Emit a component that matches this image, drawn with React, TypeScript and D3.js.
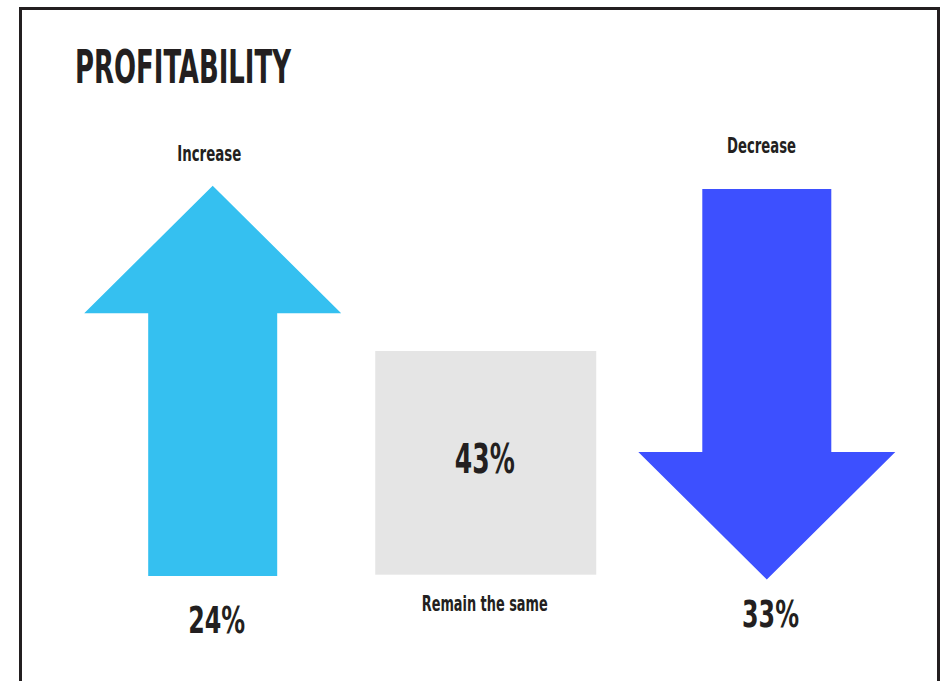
import React from "react";
import * as d3 from "d3";

const categories = ["Increase", "Remain the same", "Decrease"];
const values = [24, 43, 33];
const shapes = ["up", "box", "down"];
const colors = ["#35C0F0", "#E5E5E5", "#3D50FF"];
const title = "PROFITABILITY";

const W = 944;
const H = 681;
const FONT = "'Liberation Sans Narrow', 'DejaVu Sans Condensed', 'Roboto Condensed', Arial, sans-serif";
const INK = "#231f20";

const x = d3.scalePoint<string>().domain(categories).range([212.7, 766.8]);

function arrowPath(cx: number, top: number, bottom: number, dir: string) {
  const hw = 128.5, sw = 64.5, hh = 127.6;
  const line = d3.line<[number, number]>().x((d) => d[0]).y((d) => d[1]);
  let pts: [number, number][];
  if (dir === "up") {
    pts = [
      [cx, top], [cx + hw, top + hh], [cx + sw, top + hh], [cx + sw, bottom],
      [cx - sw, bottom], [cx - sw, top + hh], [cx - hw, top + hh],
    ];
  } else {
    pts = [
      [cx - sw, top], [cx + sw, top], [cx + sw, bottom - hh], [cx + hw, bottom - hh],
      [cx, bottom], [cx - hw, bottom - hh], [cx - sw, bottom - hh],
    ];
  }
  return line(pts) + "Z";
}

const labelW: Record<string, number> = { "Increase": 64, "Remain the same": 126, "Decrease": 69 };

export default function App() {
  return (
    <svg width={W} height={H} style={{ position: "absolute", left: 0, top: 0, background: "#fff" }}>
      <rect x={0} y={0} width={W} height={H} fill="#fff" />
      <rect x={20.5} y={8.5} width={918} height={720} fill="none" stroke={INK} strokeWidth={3} />
      <text x={75} y={83} fontFamily={FONT} fontWeight="bold" fontSize={47} fill={INK}
        textLength={216} lengthAdjust="spacingAndGlyphs">{title}</text>
      {categories.map((c, i) => {
        const cx = x(c) as number;
        const shape = shapes[i];
        const pct = `${values[i]}%`;
        if (shape === "box") {
          const bw = 221, top = 351, bottom = 574.7;
          return (
            <g key={c}>
              <rect x={cx - 4 - bw / 2} y={top} width={bw} height={bottom - top} fill={colors[i]} />
              <text x={cx - 5} y={473} textAnchor="middle" fontFamily={FONT} fontWeight="bold"
                fontSize={40} fill={INK} textLength={60} lengthAdjust="spacingAndGlyphs">{pct}</text>
              <text x={cx - 5} y={611} textAnchor="middle" fontFamily={FONT} fontWeight="bold"
                fontSize={21} fill={INK} textLength={labelW[c]} lengthAdjust="spacingAndGlyphs">{c}</text>
            </g>
          );
        }
        const up = shape === "up";
        const top = up ? 185.7 : 189;
        const bottom = up ? 576 : 579.5;
        return (
          <g key={c}>
            <path d={arrowPath(cx, top, bottom, shape)} fill={colors[i]} />
            <text x={up ? cx - 3.5 : cx - 5.3} y={up ? 161 : 152.7} textAnchor="middle" fontFamily={FONT}
              fontWeight="bold" fontSize={21} fill={INK} textLength={labelW[c]}
              lengthAdjust="spacingAndGlyphs">{c}</text>
            <text x={up ? cx + 4 : cx + 3.7} y={up ? 633 : 627} textAnchor="middle" fontFamily={FONT}
              fontWeight="bold" fontSize={38} fill={INK} textLength={57}
              lengthAdjust="spacingAndGlyphs">{pct}</text>
          </g>
        );
      })}
    </svg>
  );
}
